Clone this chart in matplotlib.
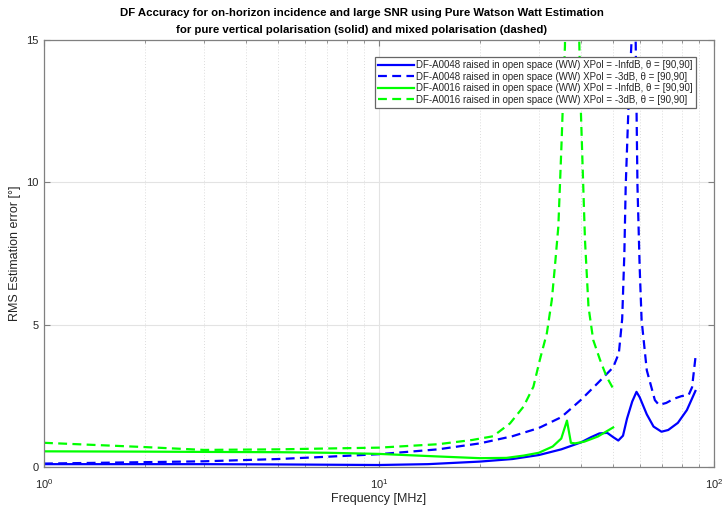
import matplotlib
matplotlib.use("Agg")
import matplotlib.pyplot as plt
from matplotlib.ticker import LogLocator, NullFormatter

plt.rcParams['font.family'] = ['Liberation Sans', 'DejaVu Sans']

# DF-A0048, pure vertical polarisation (XPol = -Inf dB)
f_a48_v = [1, 2, 3, 5, 7, 10, 14, 20, 25, 30, 35, 40, 43, 45.5, 48, 50, 51.8,
           53.5, 55, 57, 58.7, 60, 63, 66, 69.7, 73, 78, 83, 88]
rms_a48_v = [0.10, 0.10, 0.10, 0.09, 0.08, 0.07, 0.10, 0.19, 0.28, 0.42, 0.62,
             0.86, 1.05, 1.18, 1.20, 1.05, 0.93, 1.10, 1.70, 2.30, 2.64, 2.45,
             1.85, 1.42, 1.24, 1.30, 1.55, 2.00, 2.67]

# DF-A0048, mixed polarisation (XPol = -3 dB)
f_a48_m = [1, 2, 3, 5, 7, 10, 15, 20, 25, 30, 35, 40, 45, 50, 52, 53.2, 54,
           54.5, 55.5, 57, 57.7, 58.3, 59.1, 60, 60.8, 63, 66.6, 68.5, 72, 76,
           80, 84, 86, 88]
rms_a48_m = [0.12, 0.17, 0.20, 0.28, 0.36, 0.45, 0.62, 0.83, 1.08, 1.37, 1.75,
             2.35, 2.95, 3.50, 4.00, 5.20, 7.50, 9.85, 12.5, 15.5, 20.0, 15.5,
             9.85, 7.00, 5.16, 3.40, 2.35, 2.18, 2.25, 2.40, 2.49, 2.53, 2.80,
             3.83]

# DF-A0016, pure vertical polarisation (XPol = -Inf dB)
f_a16_v = [1, 2, 3, 5, 7, 10, 15, 20, 24, 27, 30, 33, 35, 36.4, 37.4, 38.5,
           41, 45, 50]
rms_a16_v = [0.55, 0.54, 0.53, 0.52, 0.50, 0.46, 0.37, 0.31, 0.32, 0.40, 0.50,
             0.72, 1.00, 1.63, 0.85, 0.83, 0.89, 1.07, 1.39]

# DF-A0016, mixed polarisation (XPol = -3 dB)
f_a16_m = [1, 2, 3, 5, 7, 10, 15, 19, 21.9, 24.6, 27.0, 28.9, 30.2, 31.7,
           32.8, 33.5, 34.3, 34.7, 35.1, 35.5, 35.9, 37.5, 39.6, 40.0, 40.6,
           41.2, 42.2, 43.6, 45.7, 47.8, 50.3]
rms_a16_m = [0.85, 0.70, 0.60, 0.62, 0.65, 0.68, 0.80, 0.95, 1.08, 1.53, 2.12,
             2.82, 3.76, 4.70, 5.87, 7.04, 8.44, 9.96, 11.5, 13.2, 14.8, 40.0,
             15.0, 12.7, 10.3, 7.97, 5.63, 4.46, 3.76, 3.17, 2.70]

labels = [
    "DF-A0048 raised in open space (WW) XPol = -InfdB, θ = [90,90]",
    "DF-A0048 raised in open space (WW) XPol = -3dB, θ = [90,90]",
    "DF-A0016 raised in open space (WW) XPol = -InfdB, θ = [90,90]",
    "DF-A0016 raised in open space (WW) XPol = -3dB, θ = [90,90]",
]

fig = plt.figure(figsize=(7.24, 5.09), dpi=100)
ax = fig.add_axes([44 / 724, 1 - 467 / 509, 670 / 724, 427 / 509])

blue = (0, 0, 1)
green = (0, 1, 0)
lw = 1.6
dash = (4.0, 2.4)

ax.plot(f_a48_v, rms_a48_v, color=blue, lw=lw, label=labels[0])
ax.plot(f_a48_m, rms_a48_m, color=blue, lw=lw, ls=(0, dash), label=labels[1])
ax.plot(f_a16_v, rms_a16_v, color=green, lw=lw, label=labels[2])
ax.plot(f_a16_m, rms_a16_m, color=green, lw=lw, ls=(0, dash), label=labels[3])

ax.set_xscale('log')
ax.set_xlim(1, 100)
ax.set_ylim(0, 15)
ax.set_yticks([0, 5, 10, 15])
ax.xaxis.set_minor_locator(LogLocator(base=10, subs=range(2, 10)))
ax.xaxis.set_minor_formatter(NullFormatter())

spine_col = '#808080'
text_col = '#262626'
for s in ax.spines.values():
    s.set_color(spine_col)
    s.set_linewidth(0.9)
ax.tick_params(which='both', direction='in', top=True, right=True,
               colors=spine_col, labelcolor=text_col, labelsize=8)
ax.tick_params(which='major', length=4)
ax.tick_params(which='minor', length=2.5)
ax.tick_params(axis='x', which='major', pad=7)
ax.tick_params(axis='y', which='major', pad=4)

ax.grid(True, which='major', color='#e3e3e3', lw=0.8, ls='-')
ax.grid(True, which='minor', color='#dcdcdc', lw=0.7, ls=(0, (1, 2)))
ax.set_axisbelow(True)

ax.set_xlabel('Frequency [MHz]', fontsize=9, color=text_col, labelpad=1.5)
ax.set_ylabel('RMS Estimation error [°]', fontsize=9, color=text_col)

# Two-line title centred on the figure
fig.text(0.5, 1 - 13 / 509, 'DF Accuracy for on-horizon incidence and large SNR using Pure Watson Watt Estimation',
         ha='center', va='center', fontsize=8.2, fontweight='bold', color='black')
fig.text(0.5, 1 - 30 / 509, 'for pure vertical polarisation (solid) and mixed polarisation (dashed)',
         ha='center', va='center', fontsize=8.2, fontweight='bold', color='black')

leg = ax.legend(loc='upper right', bbox_to_anchor=(652 / 670, 410 / 427),
                fontsize=7, frameon=True, fancybox=False, framealpha=1,
                edgecolor='#666666', handlelength=3.7, labelspacing=0.17,
                borderpad=0.3, handletextpad=0.3, borderaxespad=0)
leg.get_frame().set_linewidth(0.9)
for t in leg.get_texts():
    t.set_color(text_col)

fig.savefig('out.png', dpi=100)
